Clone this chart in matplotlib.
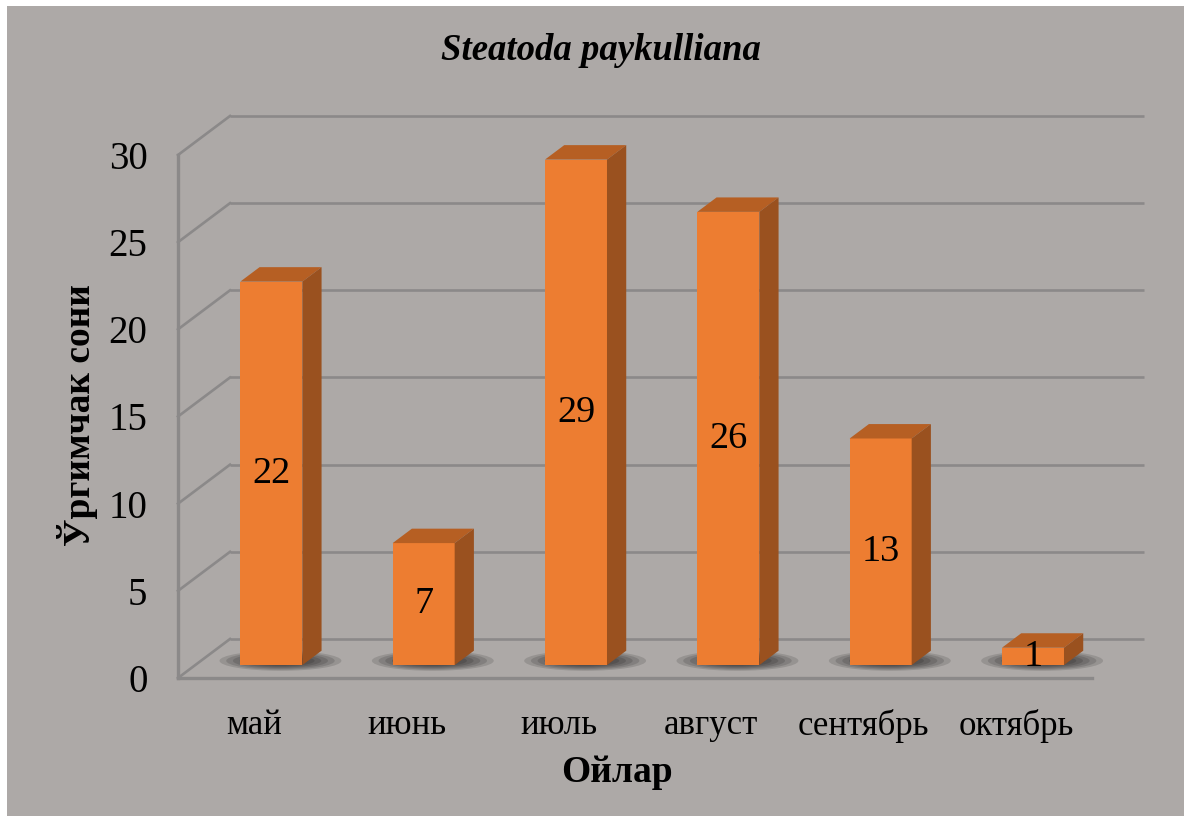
import matplotlib
matplotlib.use("Agg")
import matplotlib.pyplot as plt
from matplotlib.patches import Rectangle, Polygon, Ellipse

months = ["май", "июнь", "июль", "август", "сентябрь", "октябрь"]
counts = [22, 7, 29, 26, 13, 1]
yticks = [0, 5, 10, 15, 20, 25, 30]

title = "Steatoda paykulliana"
xlabel = "Ойлар"
ylabel = "Ўргимчак сони"

BG = "#ADA9A7"
GRID = "#8B8989"
FRONT = "#ED7D31"
TOP = "#B65F23"
SIDE = "#9A511F"

plt.rcParams["font.family"] = ["Liberation Serif", "DejaVu Serif"]

W, H = 1192, 823
fig = plt.figure(figsize=(W / 100, H / 100), dpi=100, facecolor="white")
fig.patches.append(Rectangle((7 / W, 7 / H), (W - 15) / W, (H - 13) / H,
                             transform=fig.transFigure, facecolor=BG,
                             edgecolor="none", zorder=-10))

# front plane of the 3D box (depth 0)
ax = fig.add_axes([178 / W, 145 / H, 914 / W, 523 / H])
ax.set_xlim(-0.5, len(months) - 0.5)
ax.set_ylim(0, 30)
ax.patch.set_visible(False)
for s in ax.spines.values():
    s.set_visible(False)

# oblique depth offsets (data units for full depth)
DX = 52 / 152.33
DY = 39 / 17.43
d0, d1 = 0.33, 0.70
BW = 0.407
n = len(months)
lw = 1.9

# back wall + left wall gridlines
for v in yticks:
    ax.plot([-0.5 + DX, n - 0.5 + DX], [v + DY, v + DY], color=GRID, lw=lw,
            clip_on=False, zorder=1, solid_capstyle="butt")
    ax.plot([-0.5, -0.5 + DX], [v, v + DY], color=GRID, lw=lw,
            clip_on=False, zorder=1)
ax.plot([-0.5, n - 0.5], [0, 0], color=GRID, lw=lw + 0.5, clip_on=False, zorder=1)
ax.plot([-0.5, -0.5], [0, 30], color=GRID, lw=lw + 0.5, clip_on=False, zorder=1)

xc = [i + d0 * DX for i in range(n)]
base = d0 * DY
dd = d1 - d0

# soft shadows on the floor
for i in range(n):
    cx = xc[i] + 0.06
    cy = base + 0.25
    for k in range(7):
        f = 1 - k * 0.11
        ax.add_patch(Ellipse((cx, cy), 0.80 * f, 1.15 * f, facecolor="black",
                             alpha=0.13, edgecolor="none", clip_on=False, zorder=2))

ax.bar(xc, counts, width=BW, bottom=base, color=FRONT, zorder=4, clip_on=False)

for i, v in enumerate(counts):
    x0 = xc[i] - BW / 2
    x1 = xc[i] + BW / 2
    top = v + base
    ax.add_patch(Polygon([(x0, top), (x1, top), (x1 + dd * DX, top + dd * DY),
                          (x0 + dd * DX, top + dd * DY)], closed=True,
                         facecolor=TOP, edgecolor="none", clip_on=False, zorder=4))
    ax.add_patch(Polygon([(x1, base), (x1, top), (x1 + dd * DX, top + dd * DY),
                          (x1 + dd * DX, base + dd * DY)], closed=True,
                         facecolor=SIDE, edgecolor="none", clip_on=False, zorder=4))
    ax.text(xc[i], base + v / 2, str(v), ha="center", va="center",
            fontsize=27.5, color="black", zorder=5)

ax.set_yticks(yticks)
ax.set_yticklabels([str(t) for t in yticks], fontsize=28)
ax.set_xticks(range(n))
ax.set_xticklabels(months, fontsize=25)
ax.tick_params(axis="y", length=0, pad=22)
ax.tick_params(axis="x", length=0, pad=22)

ax.set_xlabel(xlabel, fontsize=27, fontweight="bold")
ax.xaxis.set_label_coords((617 - 178) / 914, -(773 - 678) / 523)
ax.xaxis.label.set_va("center")
ax.set_ylabel(ylabel, fontsize=27, fontweight="bold")
ax.yaxis.set_label_coords((77 - 178) / 914, (678 - 415) / 523)
ax.yaxis.label.set_va("center")

fig.text(601 / W, 1 - 50 / H, title, ha="center", va="center", fontsize=26.5,
         fontweight="bold", fontstyle="italic")

fig.savefig("out.png", dpi=100, facecolor="white")
